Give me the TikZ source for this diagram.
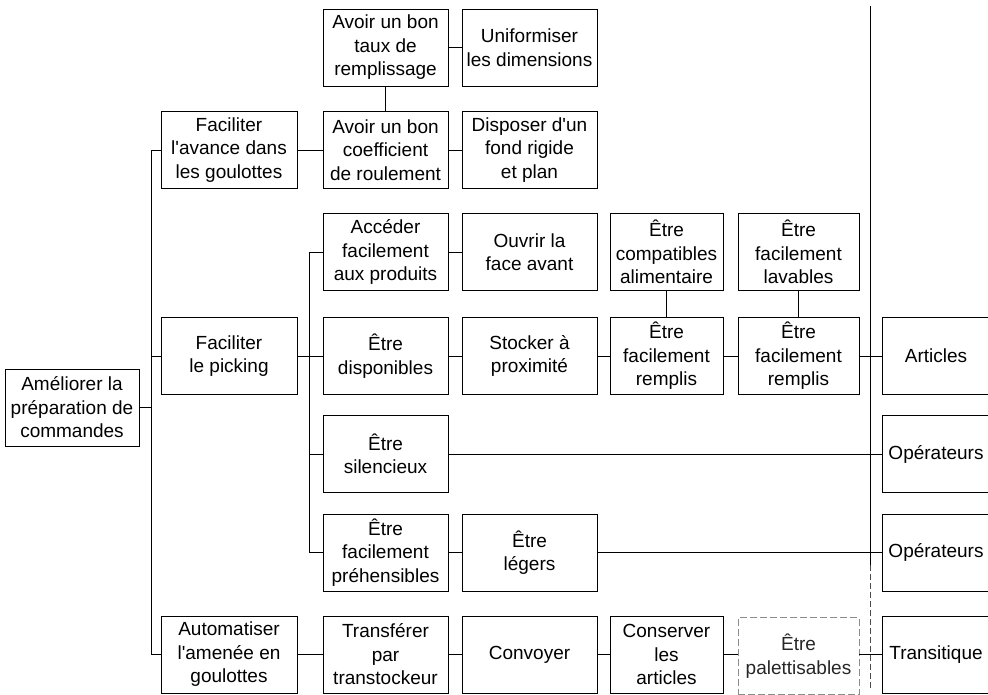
\documentclass[tikz,border=0pt]{standalone}
\usepackage{fontspec}
\setmainfont{Liberation Sans}
\newcommand{\apos}{\textquotesingle}
\begin{document}
\begin{tikzpicture}[x=1pt,y=-1pt,
  box/.style={draw, line width=0.9pt, align=center, inner sep=0pt,
    minimum height=77pt, font=\fontsize{19}{23.5}\selectfont},
  w0/.style={minimum width=134pt},
  w1/.style={minimum width=136pt},
  w2/.style={minimum width=125pt},
  w3/.style={minimum width=135pt},
  w4/.style={minimum width=113pt},
  w5/.style={minimum width=121pt},
  w6/.style={minimum width=108pt},
  faint/.style={draw=black!45, dash pattern=on 7pt off 3pt, text=black!85},
  link/.style={line width=0.9pt},
  frontier/.style={line width=0.9pt},
  frontierlow/.style={line width=0.8pt, black!70, dash pattern=on 6pt off 3pt}]
\useasboundingbox (0,0) rectangle (988,694);
\clip (0,0) rectangle (988,694);

% root and first level
\node[box,w0] (root) at (72,407.5) {Améliorer la\\préparation de\\commandes};
\node[box,w1] (fav) at (229,150) {Faciliter\\l\apos avance dans\\les goulottes};
\node[box,w1] (fpk) at (229,356) {Faciliter\\le picking};
\node[box,w1] (aut) at (229,654.5) {Automatiser\\l\apos amenée en\\goulottes};

% second column
\node[box,w2] (taux) at (385.5,47.5) {Avoir un bon\\taux de\\remplissage};
\node[box,w2] (coef) at (385.5,150) {Avoir un bon\\coefficient\\de roulement};
\node[box,w2] (acc) at (385.5,252) {Accéder\\facilement\\aux produits};
\node[box,w2] (dispo) at (385.5,356) {Être\\disponibles};
\node[box,w2] (sil) at (385.5,454) {Être\\silencieux};
\node[box,w2] (preh) at (385.5,552.5) {Être\\facilement\\préhensibles};
\node[box,w2] (transf) at (385.5,654.5) {Transférer\\par\\transtockeur};

% third column
\node[box,w3] (unif) at (529.5,47.5) {Uniformiser\\les dimensions};
\node[box,w3] (fond) at (529.5,150) {Disposer d\apos un\\fond rigide\\et plan};
\node[box,w3] (ouvr) at (529.5,252) {Ouvrir la\\face avant};
\node[box,w3] (stock) at (529.5,356) {Stocker à\\proximité};
\node[box,w3] (leg) at (529.5,552.5) {Être\\légers};
\node[box,w3] (conv) at (529.5,654.5) {Convoyer};

% fourth and fifth columns
\node[box,w4] (compat) at (666.5,252) {Être\\compatibles\\alimentaire};
\node[box,w4] (rempA) at (666.5,356) {Être\\facilement\\remplis};
\node[box,w4] (cons) at (666.5,654.5) {Conserver\\les\\articles};
\node[box,w5] (lav) at (798.5,252) {Être\\facilement\\lavables};
\node[box,w5] (rempB) at (798.5,356) {Être\\facilement\\remplis};
\node[box,w5,faint] (pal) at (798.5,656) {Être\\palettisables};

% environment elements beyond the frontier
\node[box,w6] (art) at (936,356) {Articles};
\node[box,w6] (opA) at (936,454) {Opérateurs};
\node[box,w6] (opB) at (936,552.5) {Opérateurs};
\node[box,w6] (trans) at (936,654.5) {Transitique};

% frontier of the system
\coordinate (ftop) at (870,6);
\coordinate (fmid) at (870,565);
\coordinate (fbot) at (870,690);
\draw[frontier] (ftop) -- (fmid);
\draw[frontierlow] (fmid) -- (fbot);

% main spine
\coordinate (sA) at (151,0);
\draw[link] (root.east) -- (root.east -| sA);
\draw[link] (fav.west) -| (sA |- aut.west) -- (aut.west);
\draw[link] (fpk.west) -- (fpk.west -| sA);

% picking spine
\coordinate (sB) at (309,0);
\draw[link] (fpk.east) -- (fpk.east -| sB);
\draw[link] (acc.west) -| (sB |- preh.west) -- (preh.west);
\draw[link] (dispo.west) -- (dispo.west -| sB);
\draw[link] (sil.west) -- (sil.west -| sB);

% branches
\draw[link] (fav) -- (coef);
\draw[link] (taux) -- (unif);
\draw[link] (taux) -- (coef);
\draw[link] (coef) -- (fond);
\draw[link] (acc) -- (ouvr);
\draw[link] (dispo) -- (stock);
\draw[link] (stock) -- (rempA);
\draw[link] (rempA) -- (rempB);
\draw[link] (rempB) -- (art);
\draw[link] (compat) -- (rempA);
\draw[link] (lav) -- (rempB);
\draw[link] (sil) -- (opA);
\draw[link] (preh) -- (leg);
\draw[link] (leg) -- (opB);
\draw[link] (aut) -- (transf);
\draw[link] (transf) -- (conv);
\draw[link] (conv) -- (cons);
\draw[link] (cons) -- (pal.west |- cons.east);
\draw[link] (pal.east |- trans.west) -- (trans);
\end{tikzpicture}
\end{document}
